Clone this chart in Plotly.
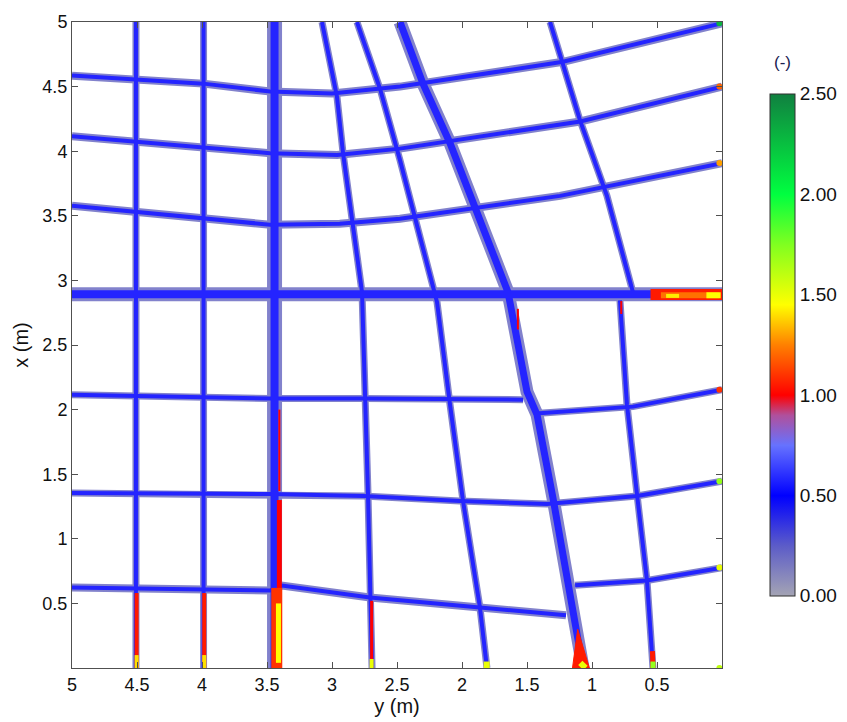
import plotly.graph_objects as go
from plotly.colors import sample_colorscale

# ---------------- data (metres) ----------------
# horizontal-ish streets: (y-values along horizontal axis, x-values along vertical axis)
H1_y = [5.0, 4.5, 3.99, 3.477, 3.0, 2.477, 1.223, 0.0]
H1_x = [4.585, 4.554, 4.523, 4.462, 4.446, 4.5, 4.692, 4.99]
H2_y = [5.0, 3.477, 2.96, 2.477, 1.09, 0.0]
H2_x = [4.115, 3.985, 3.97, 4.02, 4.23, 4.5]
H3_y = [5.0, 3.477, 2.94, 2.477, 1.246, 0.0]
H3_x = [3.577, 3.431, 3.438, 3.477, 3.654, 3.908]
H4_y = [5.0, 0.0]
H4_x = [2.893, 2.893]
H5a_y = [5.0, 3.477, 2.76, 1.53]
H5a_x = [2.115, 2.085, 2.085, 2.077]
H5b_y = [1.43, 0.685, 0.0]
H5b_x = [1.97, 2.023, 2.154]
H6_y = [5.0, 3.477, 2.76, 2.015, 1.346, 0.654, 0.0]
H6_x = [1.354, 1.346, 1.331, 1.292, 1.269, 1.331, 1.446]
H7a_y = [5.0, 3.477, 3.385, 2.708, 1.862, 1.2]
H7a_x = [0.623, 0.6, 0.638, 0.546, 0.469, 0.408]
H7b_y = [1.13, 0.577, 0.0]
H7b_x = [0.64, 0.677, 0.777]

# vertical-ish streets
VA_y = [4.508, 4.508]
VA_x = [5.0, 0.0]
VB_y = [3.988, 3.988]
VB_x = [5.0, 0.0]
VC_y = [3.442, 3.442]
VC_x = [5.0, 0.0]
VD_y = [3.077, 2.962, 2.915, 2.838, 2.769, 2.723, 2.692]
VD_x = [5.0, 4.423, 3.985, 3.423, 2.908, 1.346, 0.0]
VE_y = [2.808, 2.631, 2.477, 2.192, 2.092, 1.992, 1.862, 1.808]
VE_x = [5.0, 4.485, 3.931, 2.831, 2.038, 1.292, 0.469, 0.0]
VF_y = [2.477, 2.3, 2.092, 1.885, 1.646, 1.5, 1.423, 1.3, 1.192, 1.154, 1.069]
VF_x = [5.0, 4.523, 4.062, 3.523, 2.908, 2.138, 1.962, 1.315, 0.677, 0.446, 0.0]
VG_y = [1.323, 1.231, 1.092, 0.885, 0.685]
VG_x = [5.0, 4.692, 4.238, 3.654, 2.908]
VH_y = [0.785, 0.731, 0.654, 0.577, 0.531]
VH_x = [2.846, 2.038, 1.346, 0.677, 0.0]

# high-value patches (y, x, value)
HOT = [
    ([4.503, 4.503], [0.58, 0.0], 1.05),
    ([4.503, 4.503], [0.10, 0.0], 1.4),
    ([3.983, 3.983], [0.58, 0.0], 1.05),
    ([3.983, 3.983], [0.10, 0.0], 1.4),
    ([3.405, 3.405], [2.0, 1.37], 1.0),
    ([3.405, 3.405], [1.30, 0.6], 1.0),
    ([3.425, 3.425], [0.62, 0.0], 1.1),
    ([3.412, 3.412], [0.50, 0.04], 1.45),
    ([2.695, 2.695], [0.52, 0.0], 1.0),
    ([2.695, 2.695], [0.07, 0.0], 1.5),
    ([1.81, 1.81], [0.05, 0.0], 1.5),
    ([0.535, 0.531], [0.13, 0.0], 1.05),
    ([0.531, 0.531], [0.05, 0.0], 1.7),
    ([0.55, 0.0], [2.89, 2.89], 1.05),
    ([0.47, 0.02], [2.885, 2.885], 1.22),
    ([0.43, 0.33], [2.88, 2.88], 1.42),
    ([0.12, 0.01], [2.885, 2.885], 1.45),
    ([1.57, 1.57], [2.78, 2.62], 1.0),
    ([0.775, 0.775], [2.84, 2.74], 1.0),
]
HOT_W = [4, 4, 4, 4, 2, 5, 11, 5, 3, 4, 6, 5, 5, 11, 6, 4, 6, 2, 2]
TRI_y = [1.11, 1.15, 1.02, 1.11]
TRI_x = [0.30, 0.0, 0.0, 0.30]
END_y = [0.02, 0.02, 0.02, 0.02, 0.02, 0.02, 0.02]
END_x = [4.99, 4.5, 3.908, 2.154, 1.446, 0.777, 0.0]
END_v = [2.3, 1.2, 1.3, 1.1, 1.7, 1.5, 1.6]

XTICKS = [5, 4.5, 4, 3.5, 3, 2.5, 2, 1.5, 1, 0.5]
XTICKTEXT = ["5", "4.5", "4", "3.5", "3", "2.5", "2", "1.5", "1", "0.5"]
YTICKS = [0.5, 1, 1.5, 2, 2.5, 3, 3.5, 4, 4.5, 5]
YTICKTEXT = ["0.5", "1", "1.5", "2", "2.5", "3", "3.5", "4", "4.5", "5"]
CB_TICKS = [0, 0.5, 1.0, 1.5, 2.0, 2.5]

COLORSCALE = [
    [0.0, "#a4a4b4"], [0.1, "#5c5cc8"], [0.2, "#0000ff"], [0.3, "#6672ff"],
    [0.36, "#b0509c"], [0.4, "#ff0000"], [0.5, "#ff8000"], [0.58, "#ffff00"],
    [0.7, "#80ff20"], [0.8, "#00ff40"], [1.0, "#108040"],
]
VMAX = 2.5
FONT = "Liberation Sans, Arial, sans-serif"

def col(v):
    return sample_colorscale(COLORSCALE, [min(max(v / VMAX, 0), 1)])[0]

OUTER = "#8282cc"
CORE = "#2424ff"

streets = [
    (H1_y, H1_x, 8, 4), (H2_y, H2_x, 8, 4), (H3_y, H3_x, 8, 4),
    (H5a_y, H5a_x, 7, 4), (H5b_y, H5b_x, 7, 4), (H6_y, H6_x, 7, 4),
    (H7a_y, H7a_x, 8, 4), (H7b_y, H7b_x, 7, 4),
    (VA_y, VA_x, 7, 4), (VB_y, VB_x, 7, 4),
    (VD_y, VD_x, 7, 4), (VE_y, VE_x, 7, 4),
    (VG_y, VG_x, 7, 4), (VH_y, VH_x, 7, 4),
    (VF_y, VF_x, 13, 7), (VC_y, VC_x, 15, 8), (H4_y, H4_x, 14, 8),
]

fig = go.Figure()
for ys, xs, wo, wi in streets:
    fig.add_trace(go.Scatter(x=ys, y=xs, mode="lines", line=dict(color=OUTER, width=wo),
                             hoverinfo="skip", showlegend=False))
for ys, xs, wo, wi in streets:
    fig.add_trace(go.Scatter(x=ys, y=xs, mode="lines", line=dict(color=CORE, width=wi),
                             hoverinfo="skip", showlegend=False))

fig.add_trace(go.Scatter(x=TRI_y, y=TRI_x, mode="lines", fill="toself", fillcolor=col(1.05),
                         line=dict(color=col(1.05), width=1), hoverinfo="skip", showlegend=False))
for (ys, xs, v), w in zip(HOT, HOT_W):
    fig.add_trace(go.Scatter(x=ys, y=xs, mode="lines", line=dict(color=col(v), width=w),
                             hoverinfo="skip", showlegend=False))
fig.add_trace(go.Scatter(x=[1.09, 1.05], y=[0.04, 0.0], mode="lines",
                         line=dict(color=col(1.5), width=6), hoverinfo="skip", showlegend=False))
fig.add_trace(go.Scatter(x=END_y, y=END_x, mode="markers",
                         marker=dict(size=6, color=[col(v) for v in END_v]),
                         hoverinfo="skip", showlegend=False))

# colour bar carrier
fig.add_trace(go.Scatter(
    x=[2.5], y=[-10], mode="markers", showlegend=False, hoverinfo="skip",
    marker=dict(size=1, color=[0], cmin=0, cmax=VMAX, colorscale=COLORSCALE, showscale=True,
                colorbar=dict(
                    x=1.074, xanchor="left", y=0.5005, yanchor="middle",
                    len=0.7766, lenmode="fraction", thickness=25, thicknessmode="pixels",
                    xpad=0, ypad=0, outlinecolor="#303030", outlinewidth=1,
                    tickvals=CB_TICKS, ticktext=["%.2f" % t for t in CB_TICKS],
                    ticks="", ticklabelposition="outside",
                    tickfont=dict(family=FONT, size=19, color="#111111"),
                ))))
fig.add_annotation(text="(-)", xref="paper", yref="paper", x=1.093, y=0.937,
                   xanchor="center", yanchor="middle", showarrow=False,
                   font=dict(family=FONT, size=17, color="#1a2050"))

axis_common = dict(showgrid=False, zeroline=False, showline=True, linecolor="#505050", linewidth=1,
                   mirror="ticks", ticks="inside", ticklen=6, tickcolor="#505050",
                   tickfont=dict(family=FONT, size=18, color="#111111"))
fig.update_layout(
    width=847, height=722,
    margin=dict(l=72, r=125, t=18, b=54),
    paper_bgcolor="white", plot_bgcolor="white",
    font=dict(family=FONT),
    xaxis=dict(range=[5, 0], tickmode="array", tickvals=XTICKS, ticktext=XTICKTEXT,
               title=dict(text="y (m)", standoff=1,
                          font=dict(family=FONT, size=20, color="#111111")),
               **axis_common),
    yaxis=dict(range=[0, 5], tickmode="array", tickvals=YTICKS, ticktext=YTICKTEXT,
               title=dict(text="x (m)", standoff=8,
                          font=dict(family=FONT, size=20, color="#111111")),
               **axis_common),
)
fig.write_html("out.html")
